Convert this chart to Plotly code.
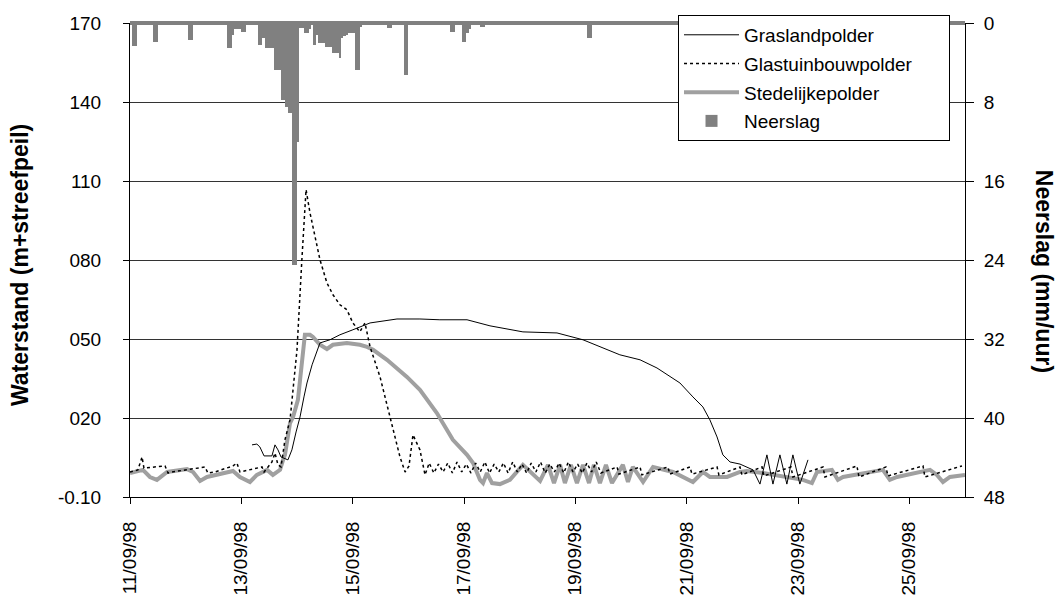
import pandas as pd
import plotly.graph_objects as go

# ---------------- data ----------------
START = "1998-09-11 00:00"

# hourly precipitation (hour since start, mm/uur)
rain_hour = [1, 2, 10, 11, 25, 26, 42, 43, 44, 45, 46, 47, 48, 49,
             55, 56, 57, 58, 59, 60, 61, 62, 63, 64, 65, 66, 67, 68, 69, 70, 71, 72, 73, 74, 75, 76, 77,
             79, 80, 81, 82, 83, 84, 85, 86, 87, 88, 89, 90, 91, 92, 93, 94, 95, 96, 97, 98, 99,
             111, 112, 118, 119, 138, 139, 143, 144, 145, 146, 151, 152, 197, 198]
rain_mm = [2.3, 2.3, 1.9, 1.9, 1.7, 1.7, 2.5, 2.5, 1.2, 0.6, 0.6, 0.6, 0.9, 0.9,
           2.2, 2.2, 1.5, 2.5, 2.5, 2.5, 2.5, 4.8, 4.8, 4.8, 7.8, 7.8, 8.5, 9.1, 9.1, 24.5, 24.5, 12.1, 0.5, 0.5, 1.0, 1.0, 0.6,
           2.2, 1.2, 2.0, 2.0, 2.0, 2.4, 2.4, 2.4, 3.0, 3.0, 3.0, 3.5, 1.5, 1.3, 1.2, 1.0, 1.0, 1.0, 4.8, 4.8, 0.4,
           0.5, 0.5, 5.3, 5.3, 0.9, 0.9, 1.9, 1.9, 1.0, 0.6, 0.4, 0.4, 1.5, 1.5]

# Graslandpolder
gras_h = [52.6, 54.7, 56.0, 57.8, 61.2, 62.5, 63.8, 65.1, 68.1, 69.8,
          71.6, 73.3, 75.0, 76.3, 78.5, 80.6, 81.9, 86.2, 90.5, 96.1,
          103.5, 115.1, 125.0, 133.6, 145.3, 155.2, 169.4, 184.1, 195.3, 211.2,
          219.9, 227.2, 237.1, 242.7, 247.0, 250.0, 253.1, 255.6, 258.7, 263.0,
          267.3, 268.6, 271.6, 274.6, 277.2, 280.2, 283.2, 285.8, 288.8, 292.3]
gras_v = [0.098, 0.101, 0.090, 0.056, 0.056, 0.098, 0.079, 0.052, 0.041, 0.079,
          0.147, 0.204, 0.280, 0.333, 0.402, 0.459, 0.485, 0.497, 0.516, 0.535,
          0.561, 0.576, 0.576, 0.573, 0.573, 0.550, 0.527, 0.523, 0.497, 0.440,
          0.421, 0.390, 0.333, 0.280, 0.242, 0.193, 0.128, 0.060, 0.033, 0.025,
          0.010, 0.003, -0.051, 0.060, -0.051, 0.060, -0.051, 0.060, -0.051, 0.041]

# Glastuinbouwpolder
glas_h = [0, 3.4, 5.2, 6.0, 15.1, 16.4, 18.1, 32.3, 33.6, 36.6, 44.4, 46.1, 47.4, 56.9, 57.8,
          61.2, 62.5, 63.8, 65.1, 66.8, 69.0, 72.0, 74.1, 75.9, 77.6, 81.9, 84.9, 87.5, 90.5,
          93.5, 96.1, 99.1, 101.3, 103.5, 107.8, 112.1, 116.4, 118.6, 120.3, 122.0, 125.0, 127.2,
          129, 131, 133, 135, 137, 139, 141, 143, 145, 147, 149, 151, 153, 155, 157, 159, 161,
          163, 165, 167, 169, 171, 173, 175, 177, 179, 181, 183, 185, 187, 189, 191, 193, 195,
          197, 199, 201, 203,
          210.0, 210.8, 219.9, 220.7, 231.9, 232.8, 241.4, 242.3, 253.1, 253.9, 263.0, 263.8,
          272.5, 273.3, 285.0, 285.8, 298.8, 299.6, 313.4, 314.3, 325.9, 326.8, 341.9, 342.7, 358.7]
glas_v = [-0.005, 0.003, 0.052, 0.010, 0.018, -0.009, -0.005, 0.014, -0.009, -0.005, 0.018, 0.029, -0.005, 0.014, -0.005,
          0.033, 0.067, 0.022, 0.014, 0.117, 0.193, 0.459, 0.801, 1.067, 0.979, 0.801, 0.713, 0.668, 0.630,
          0.611, 0.561, 0.527, 0.561, 0.470, 0.356, 0.204, 0.052, -0.005, 0.018, 0.136, 0.079, -0.016,
          0.029, -0.009, 0.025, -0.005, 0.029, -0.009, 0.033, -0.005, 0.025, -0.009, 0.029, -0.005, 0.033, -0.009, 0.025, -0.005, 0.029,
          -0.009, 0.033, -0.005, 0.025, -0.009, 0.029, -0.005, 0.033, -0.009, 0.025, -0.005, 0.029, -0.009, 0.033, -0.005, 0.025, -0.009,
          0.029, -0.005, 0.033, -0.009,
          0.014, -0.013, 0.014, -0.016, 0.014, -0.013, 0.014, -0.013, 0.014, -0.016, 0.014, -0.016,
          0.014, -0.020, 0.014, -0.024, 0.014, -0.024, 0.018, -0.024, 0.014, -0.020, 0.018, -0.024, 0.018]

# Stedelijkepolder
sted_h = [0, 5.6, 8.6, 11.6, 16.0, 24.6, 27.2, 30.2, 33.2, 44.4, 47.4, 51.7, 54.7, 59.1, 61.6, 64.7,
          66.0, 66.8, 69.0, 70.3, 72.4, 74.1, 75.4, 77.6, 78.9, 81.9, 84.9, 87.5, 93.5, 99.1, 102.2,
          104.8, 110.8, 119.4, 125.0, 132.3, 139.2, 145.3, 147.9, 150.9, 152.2, 153.9, 156.1, 159.5,
          163.8, 169.4, 176.8, 180.2, 182.8, 185.4, 187.5, 190.1, 192.7, 195.3, 197.9, 200.0, 202.6,
          205.2, 207.8, 212.5, 214.7, 216.8, 221.2, 225.5, 234.1, 242.7, 247.0, 250.0, 257.4, 263.0,
          266.0, 272.9, 283.2, 290.1, 294.0, 296.2, 302.6, 305.2, 307.4, 324.6, 327.6, 330.7, 344.9,
          347.9, 350.5, 353.5, 360.0]
sted_v = [-0.009, 0.003, -0.024, -0.035, -0.005, 0.006, -0.005, -0.039, -0.024, -0.001, -0.024, -0.043, -0.016, 0.003, -0.016, 0.003,
          0.041, 0.060, 0.181, 0.204, 0.269, 0.394, 0.516, 0.516, 0.508, 0.478, 0.462, 0.478, 0.485, 0.478, 0.470,
          0.459, 0.421, 0.356, 0.307, 0.219, 0.117, 0.060, 0.029, -0.035, -0.047, -0.009, -0.047, -0.051,
          -0.035, 0.022, -0.039, 0.022, -0.047, 0.022, -0.047, 0.022, -0.047, 0.022, -0.047, 0.022, -0.047,
          0.022, -0.047, 0.022, -0.043, 0.014, -0.043, 0.014, -0.005, -0.043, -0.005, -0.024, -0.024, -0.005,
          -0.001, -0.009, -0.024, -0.035, -0.047, -0.005, 0.003, -0.035, -0.024, 0.003, -0.035, -0.024, 0.003,
          -0.016, -0.043, -0.024, -0.016]

left_ticks = [-0.10, 0.20, 0.50, 0.80, 1.10, 1.40, 1.70]
left_ticktext = ["-0.10", "020", "050", "080", "110", "140", "170"]
right_ticks = [0, 8, 16, 24, 32, 40, 48]

# ---------------- figure ----------------
start = pd.Timestamp(START)


def to_time(hours):
    return [start + pd.Timedelta(hours=h) for h in hours]


FONT = "Arial, Liberation Sans, sans-serif"
NB = "\u00a0" * 6  # pads the legend box to the reference width

fig = go.Figure()
fig.add_trace(go.Bar(x=to_time(rain_hour), y=rain_mm, yaxis="y2", offset=0, width=3600000,
                     marker=dict(color="#808080", line=dict(width=0)),
                     name="Neerslag", legendgroup="g4", legendrank=4))
fig.add_trace(go.Scatter(x=to_time(sted_h), y=sted_v, mode="lines",
                         line=dict(color="#a0a0a0", width=4),
                         name="Stedelijkepolder", legendgroup="g3", legendrank=3))
fig.add_trace(go.Scatter(x=to_time(gras_h), y=gras_v, mode="lines",
                         line=dict(color="black", width=1),
                         name="Graslandpolder", legendgroup="g1", legendrank=1))
fig.add_trace(go.Scatter(x=to_time(glas_h), y=glas_v, mode="lines",
                         line=dict(color="black", width=1.5, dash="dot"),
                         name="Glastuinbouwpolder" + NB, legendgroup="g2", legendrank=2))

fig.update_layout(
    width=1058, height=601,
    margin=dict(l=130, r=93, t=23, b=104, autoexpand=False),
    paper_bgcolor="white", plot_bgcolor="white",
    font=dict(family=FONT, size=19, color="black"),
    showlegend=True,
    legend=dict(x=0.6563, y=1.017, xanchor="left", yanchor="top",
                bgcolor="white", bordercolor="black", borderwidth=1,
                font=dict(size=19), traceorder="grouped", tracegroupgap=1,
                itemwidth=55),
    xaxis=dict(type="date", range=[start, start + pd.Timedelta(days=15)],
               tick0=start, dtick=172800000, tickformat="%d/%m/%y", tickangle=-90,
               ticks="outside", ticklen=6, tickcolor="black",
               showline=True, linecolor="black", linewidth=1,
               showgrid=False, zeroline=False, ticklabelstandoff=10),
    yaxis=dict(range=[-0.10, 1.70], tickvals=left_ticks, ticktext=left_ticktext,
               ticks="outside", ticklen=6, tickcolor="black",
               showline=True, linecolor="black", linewidth=1,
               showgrid=True, gridcolor="#333333", gridwidth=1, zeroline=False,
               ticklabelstandoff=18),
    yaxis2=dict(overlaying="y", side="right", range=[48, 0], tickvals=right_ticks,
                ticks="outside", ticklen=8, tickcolor="black",
                showline=True, linecolor="black", linewidth=1,
                showgrid=False, zeroline=True, zerolinecolor="#808080", zerolinewidth=4,
                ticklabelstandoff=6),
    bargap=0,
    annotations=[
        dict(text="<b>Waterstand (m+streefpeil)</b>", xref="paper", yref="paper",
             x=-0.132, y=0.489, xanchor="center", yanchor="middle",
             textangle=-90, showarrow=False,
             font=dict(family=FONT, size=23, color="black")),
        dict(text="<b>Neerslag (mm/uur)</b>", xref="paper", yref="paper",
             x=1.0946, y=0.475, xanchor="center", yanchor="middle",
             textangle=90, showarrow=False,
             font=dict(family=FONT, size=23, color="black")),
    ],
)

# remove the default 8 px page margin so the figure fills the window exactly
fig.write_html("out.html",
               config={"displayModeBar": False},
               post_script="document.body.style.margin='0px';document.body.style.overflow='hidden';")
